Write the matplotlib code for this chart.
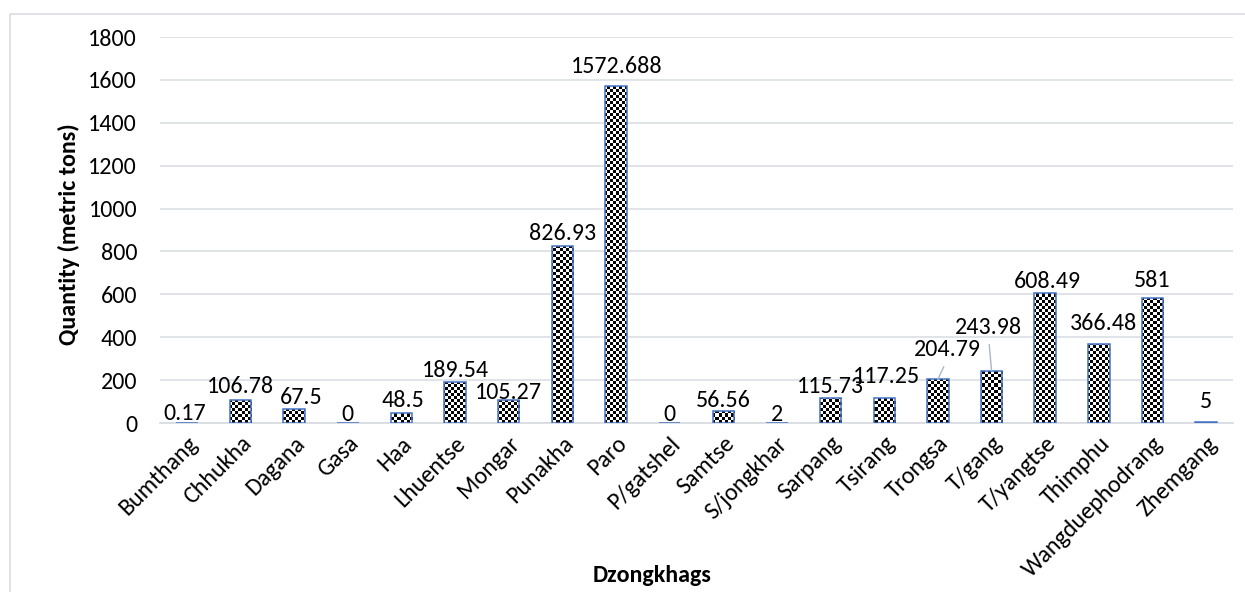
import numpy as np
import matplotlib
matplotlib.use("Agg")
import matplotlib.pyplot as plt
from matplotlib.image import AxesImage
from matplotlib.patches import Rectangle

# Production quantity per Dzongkhag (metric tons)
dzongkhags = ["Bumthang", "Chhukha", "Dagana", "Gasa", "Haa", "Lhuentse", "Mongar",
              "Punakha", "Paro", "P/gatshel", "Samtse", "S/jongkhar", "Sarpang",
              "Tsirang", "Trongsa", "T/gang", "T/yangtse", "Thimphu",
              "Wangduephodrang", "Zhemgang"]
quantity = [0.17, 106.78, 67.5, 0, 48.5, 189.54, 105.27, 826.93, 1572.688, 0,
            56.56, 2, 115.73, 117.25, 204.79, 243.98, 608.49, 366.48, 581, 5]
y_ticks = [0, 200, 400, 600, 800, 1000, 1200, 1400, 1600, 1800]

# Data-label placement: (dx, dy) in pixels from the top-centre of each bar
label_offsets = [(-2, 3), (0, 7), (7, 5), (0, 2), (2, 6), (0, 5), (0, 1),
                 (0, 6), (1, 13), (0, 2), (0, 4), (0, 2), (0, 5), (2, 15),
                 (9, 23), (-3, 37), (2, 5), (5, 14), (0, 11), (0, 14)]
leader_labels = {"Trongsa", "T/gang"}

plt.rcParams["font.family"] = ["Carlito", "Lato", "DejaVu Sans"]
FS = 17.3
W, H = 1245, 592
fig = plt.figure(figsize=(W / 100, H / 100), dpi=100)
fig.patch.set_facecolor("white")

ax_l, ax_r, ax_t, ax_b = 160, 1233, 37, 423
ax = fig.add_axes([ax_l / W, (H - ax_b) / H, (ax_r - ax_l) / W, (ax_b - ax_t) / H])

x = np.arange(len(dzongkhags))
bars = ax.bar(x, quantity, width=0.4, facecolor="none", edgecolor="#4472C4",
              linewidth=1.1, zorder=4)

# Checkerboard fill (3 px cells), clipped to each bar
cell = 3
aw, ah = ax_r - ax_l, ax_b - ax_t
nx, ny = int(np.ceil(aw / cell)), int(np.ceil(ah / cell))
checker = (np.add.outer(np.arange(ny), np.arange(nx)) % 2).astype(float)
for bar in bars:
    im = AxesImage(ax, cmap="gray", interpolation="nearest", origin="lower",
                   extent=(0, nx * cell / aw, 0, ny * cell / ah))
    im.set_transform(ax.transAxes)
    im.set_data(checker)
    im.set_clim(0, 1)
    im.set_zorder(3)
    im.set_clip_path(bar)
    ax.add_image(im)

ax.set_xlim(-0.5, len(dzongkhags) - 0.5)
ax.set_ylim(0, 1800)
ax.set_yticks(y_ticks)
ax.set_yticklabels([str(t) for t in y_ticks], fontsize=FS)
ax.set_xticks(x)
ax.set_xticklabels(dzongkhags, fontsize=FS, rotation=45, ha="right",
                   rotation_mode="anchor")
ax.tick_params(axis="y", length=0, pad=16.5)
ax.tick_params(axis="x", length=0, pad=7)

ax.grid(axis="y", color="#dde1e6", linewidth=1.3, zorder=0)
ax.set_axisbelow(True)
for side in ("left", "right", "top"):
    ax.spines[side].set_visible(False)
ax.spines["bottom"].set_color("#d9dce1")
ax.spines["bottom"].set_linewidth(1.3)

for name, xi, v, (dx, dy) in zip(dzongkhags, x, quantity, label_offsets):
    kw = {}
    if name in leader_labels:
        kw["arrowprops"] = dict(arrowstyle="-", color="#aab6c8", lw=1.0,
                                relpos=(0.5, 0.0), shrinkA=3, shrinkB=0)
    ax.annotate(f"{v:.10g}", xy=(xi, v), xytext=(dx, dy),
                textcoords="offset pixels", ha="center", va="baseline",
                fontsize=FS, zorder=5, **kw)

ax.set_ylabel("Quantity (metric tons)", fontsize=FS, fontweight="bold")
ax.yaxis.set_label_coords(-0.0746, 0.49)
fig.text(652 / W, 1 - 576 / H, "Dzongkhags", ha="center", va="center",
         fontsize=FS, fontweight="bold")

# Chart-area border
fig.patches.append(Rectangle((10 / W, -0.1), 1.5, (H - 14) / H + 0.1,
                             transform=fig.transFigure, fill=False,
                             edgecolor="#d9dce1", linewidth=1.2))

fig.savefig("out.png", dpi=100)
